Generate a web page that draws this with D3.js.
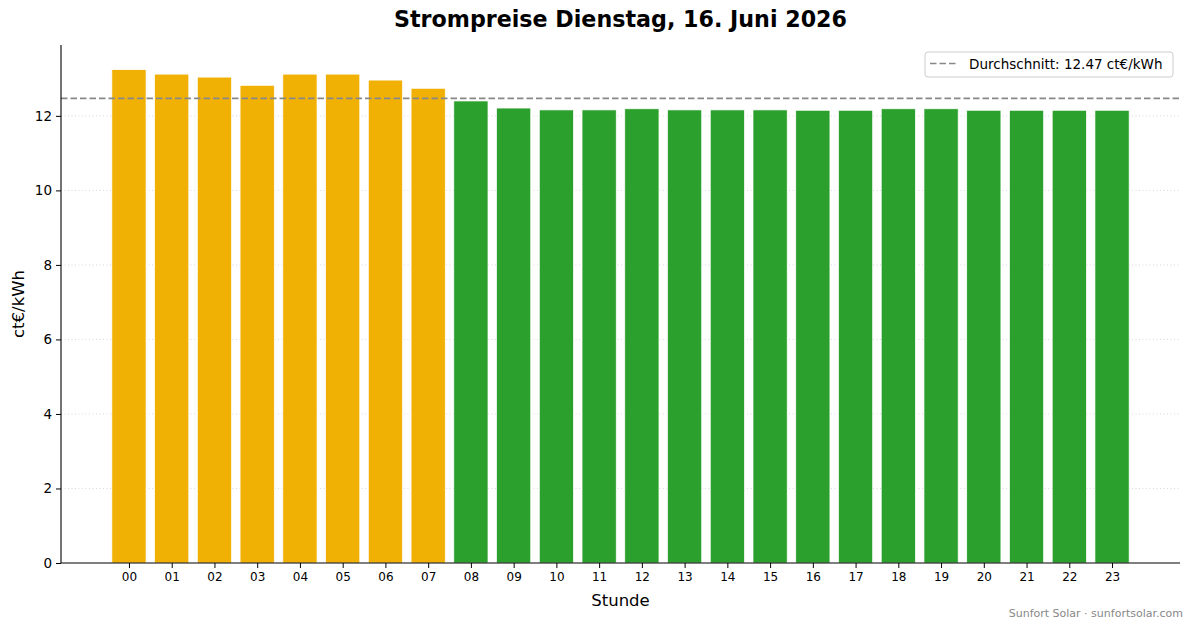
<!DOCTYPE html>
<html>
<head>
<meta charset="utf-8">
<script src="https://cdn.jsdelivr.net/npm/d3@7"></script>
<style>
  body { margin: 0; background: #fff; }
  svg { font-family: "DejaVu Sans", sans-serif; display: block; }
</style>
</head>
<body>
<svg id="chart" width="1193" height="628"></svg>
<script>
// hourly prices, ct€/kWh
var hours = ["00","01","02","03","04","05","06","07","08","09","10","11",
             "12","13","14","15","16","17","18","19","20","21","22","23"];
var prices = [13.24, 13.12, 13.04, 12.82, 13.12, 13.12, 12.96, 12.74,
              12.40, 12.21, 12.16, 12.16, 12.19, 12.16, 12.16, 12.16,
              12.15, 12.15, 12.19, 12.19, 12.15, 12.15, 12.15, 12.15];
var average = 12.47;
var yTicks = [0, 2, 4, 6, 8, 10, 12];

var svg = d3.select("#chart");
var m = {left: 61, right: 1180, top: 45, bottom: 563};

// bar slots like matplotlib: index positions with 5% margins
var x = d3.scaleLinear().domain([-1.59, 24.59]).range([m.left, m.right]);
var y = d3.scaleLinear().domain([0, d3.max(prices) * 1.05]).range([m.bottom, m.top]);

// grid
svg.append("g").selectAll("line").data(yTicks.slice(1)).join("line")
    .attr("x1", m.left).attr("x2", m.right)
    .attr("y1", function (d) { return y(d); }).attr("y2", function (d) { return y(d); })
    .attr("stroke", "#cfcfcf").attr("stroke-width", 0.8).attr("stroke-dasharray", "1,2.5");

// bars
svg.append("g").selectAll("rect").data(prices).join("rect")
    .attr("x", function (d, i) { return x(i - 0.4); })
    .attr("width", x(0.8) - x(0))
    .attr("y", function (d) { return y(d); })
    .attr("height", function (d) { return y(0) - y(d); })
    .attr("fill", function (d) { return d > average ? "#f0b004" : "#2ca02c"; })
    .attr("stroke", "#fff").attr("stroke-width", 0.7);

// average line
svg.append("line")
    .attr("x1", m.left).attr("x2", m.right)
    .attr("y1", y(average)).attr("y2", y(average))
    .attr("stroke", "#888").attr("stroke-width", 1.6).attr("stroke-dasharray", "6.5,3");

// axes
var xAxis = d3.axisBottom(x).tickValues(d3.range(hours.length))
    .tickFormat(function (i) { return hours[i]; }).tickSizeOuter(0).tickSize(5).tickPadding(4);
var gx = svg.append("g").attr("transform", "translate(0," + m.bottom + ")").call(xAxis);
gx.selectAll("text").attr("font-size", 12).attr("fill", "#000").attr("font-family", "DejaVu Sans");
gx.select(".domain").remove();

var yAxis = d3.axisLeft(y).tickValues(yTicks).tickSizeOuter(0).tickSize(5).tickPadding(4);
var gy = svg.append("g").attr("transform", "translate(" + m.left + ",0)").call(yAxis);
gy.selectAll("text").attr("font-size", 13.5).attr("fill", "#000").attr("font-family", "DejaVu Sans");
gy.select(".domain").remove();

// spines
svg.append("line").attr("x1", m.left).attr("x2", m.right).attr("y1", m.bottom).attr("y2", m.bottom)
    .attr("stroke", "#000").attr("stroke-width", 1.1);
svg.append("line").attr("x1", m.left).attr("x2", m.left).attr("y1", m.top).attr("y2", m.bottom)
    .attr("stroke", "#000").attr("stroke-width", 1.1);

// labels
svg.append("text").attr("x", (m.left + m.right) / 2).attr("y", 27)
    .attr("text-anchor", "middle").attr("font-size", 22.2).attr("font-weight", "bold")
    .text("Strompreise Dienstag, 16. Juni 2026");
svg.append("text").attr("x", (m.left + m.right) / 2).attr("y", 606)
    .attr("text-anchor", "middle").attr("font-size", 16.5).text("Stunde");
svg.append("text").attr("transform", "translate(24," + (m.top + m.bottom) / 2 + ") rotate(-90)")
    .attr("text-anchor", "middle").attr("font-size", 16.5).text("ct€/kWh");

// legend
var lg = svg.append("g").attr("transform", "translate(925,52)");
lg.append("rect").attr("width", 248).attr("height", 25).attr("rx", 3)
    .attr("fill", "#fff").attr("fill-opacity", 0.8).attr("stroke", "#ccc");
lg.append("line").attr("x1", 5).attr("x2", 33).attr("y1", 11.5).attr("y2", 11.5)
    .attr("stroke", "#888").attr("stroke-width", 1.6).attr("stroke-dasharray", "6.5,3");
lg.append("text").attr("x", 44).attr("y", 17).attr("font-size", 13.5)
    .text("Durchschnitt: " + average.toFixed(2) + " ct€/kWh");

// footer
svg.append("text").attr("x", 1183).attr("y", 617).attr("text-anchor", "end")
    .attr("font-size", 11).attr("fill", "#888").text("Sunfort Solar · sunfortsolar.com");
</script>
</body>
</html>
